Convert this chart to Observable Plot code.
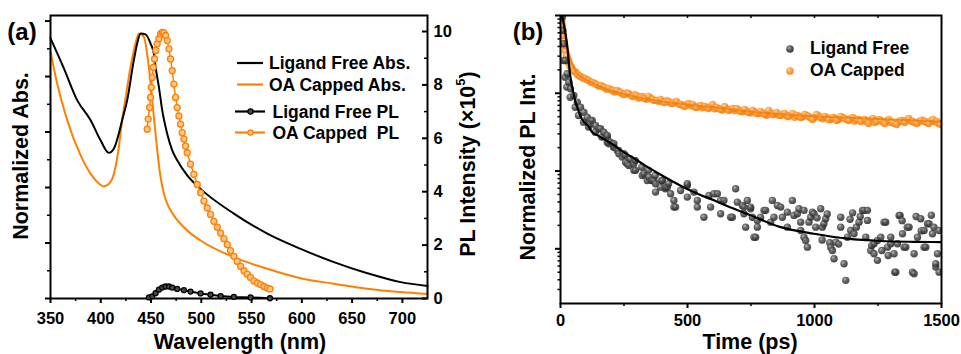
<!DOCTYPE html>
<html><head><meta charset="utf-8">
<script src="https://cdn.jsdelivr.net/npm/d3@7"></script>
<script src="https://cdn.jsdelivr.net/npm/@observablehq/plot@0.6"></script>
<style>
body{margin:0;background:#fff;}
#wrap{position:relative;width:961px;height:354px;overflow:hidden;background:#fff;}
#wrap svg{position:absolute;top:0;}
</style></head><body><div id="wrap"></div>
<script>
// ---------- Panel (a) data ----------
const wlAbsLF = [350,363,376.5,389.8,399.8,408,413,418,421.3,426.3,432.9,436.2,439.6,444.5,449.5,452.8,454.5,457.8,461.1,466,471.1,476,486,499,532.4,565.6,598.8,631.9,665.1,698.3,725];
const absLF   = [0.938,0.832,0.715,0.643,0.570,0.525,0.540,0.595,0.643,0.715,0.859,0.919,0.955,0.952,0.919,0.883,0.835,0.763,0.679,0.595,0.534,0.498,0.444,0.396,0.306,0.234,0.179,0.131,0.091,0.059,0.045];
const wlAbsOA = [350,356.6,366.6,380,389.8,396.5,403,409.7,414.7,418,421.3,425,429.6,434.6,437.9,442.8,447.8,452.8,456.2,459.5,462.8,466.1,469.4,482.6,499.3,532.4,565.6,598.8,632,665,698,725];
const absOA   = [0.889,0.775,0.643,0.516,0.450,0.420,0.404,0.420,0.474,0.546,0.643,0.730,0.835,0.919,0.955,0.943,0.835,0.655,0.534,0.438,0.378,0.342,0.318,0.257,0.209,0.149,0.107,0.073,0.053,0.035,0.023,0.016];
const wlPLOA = [446.2,447.2,448.5,449.5,450.2,451.2,452.2,453.5,454.8,456.1,457.8,459.5,461.1,462.8,464.4,466.1,467.8,469.4,471.1,472.7,474.4,476,477.7,479.4,481,482.7,484.3,486,489.3,492.6,496,499.3,502.6,505.9,509.2,512.5,515.9,519.2,522.5,525.8,529.1,532.4,535.8,539.1,542.4,545.7,549,552.3,555.7,559,562.3,565.6,568.3];
const plOA   = [6.34,6.72,7.15,7.53,7.91,8.28,8.66,8.97,9.29,9.54,9.73,9.91,9.97,9.95,9.85,9.66,9.35,8.97,8.53,8.03,7.53,7.15,6.84,6.53,6.21,5.97,5.71,5.46,5.03,4.65,4.27,3.96,3.65,3.39,3.15,2.89,2.67,2.45,2.24,2.02,1.79,1.58,1.39,1.20,1.04,0.91,0.79,0.66,0.58,0.52,0.45,0.39,0.36];
const wlPLLF = [447.9,451.2,454.5,457.8,461.1,464.4,467.8,471.1,476,482.7,489.3,499.3,509.2,519.2,532.4,549,568.3];
const plLF   = [0.04,0.08,0.20,0.33,0.41,0.45,0.45,0.41,0.36,0.31,0.26,0.19,0.14,0.09,0.06,0.04,0.01];
const wlMajor = [350,400,450,500,550,600,650,700];
const wlMinor = [375,425,475,525,575,625,675];
const absMajor = [0,0.2,0.4,0.6,0.8,1.0];
const absMinor = [0.1,0.3,0.5,0.7,0.9];
const plMajor = [0,2,4,6,8,10];
const plMinor = [1,3,5,7,9];
const legendA = ["Ligand Free Abs.","OA Capped Abs.","Ligand Free PL","OA Capped  PL"];

// ---------- Panel (b) data ----------
const tLF = [6.7,9,11.8,13,18.5,19.7,24.8,26.4,32.7,38.2,39.4,52.4,57.9,65.8,70.9,78.8,90.6,91.8,105.2,110.3,118,118,124.9,136.7,137.9,150.9,157.6,162.7,170.6,184,184,184,189,190.3,197,208.8,210,210,223.4,228.5,230,243.1,249.4,255,256.1,262.8,269.1,274.6,288.8,288.8,294.3,295.5,320.3,321.9,328.2,341.6,346.7,347.9,359.7,361.3,367.6,373,374.3,374.3,394,399,400.7,412.5,413.7,420.4,425.5,433.4,446.4,446.4,453.1,472.8,499.2,499.2,499.2,525.2,538.6,538.6,564.6,584.3,591,604,617.4,630.4,630.4,643.4,669.8,676.5,689.5,696.2,715.9,722.2,722.2,728.9,735.6,748.6,748.6,755.3,761.6,768.3,775,775,788,801,807.7,827.4,834.1,840.4,853.8,866.8,873.5,893.2,893.2,912.9,919.2,932.6,938.9,945.6,945.6,958.6,958.6,965.3,972,978.3,985,991.7,998,1004.7,1010,1024.4,1030,1031.1,1037,1044.1,1050,1060,1063.8,1070.5,1076.8,1083.5,1095,1103.2,1103.2,1116.2,1122.9,1129.6,1140,1142.6,1150,1155.6,1165,1175.3,1180,1188.7,1195,1201.7,1208.4,1208.4,1221.4,1225,1234.4,1234.4,1247.8,1247.8,1260.8,1265,1273.8,1280.5,1287.2,1290,1300.2,1300.2,1313.2,1316,1319.9,1326.6,1332.9,1336.8,1345,1346.3,1352.6,1359.3,1365,1372.3,1385.7,1392,1392,1400,1405.4,1418.4,1420,1431.4,1431.4,1438.1,1445,1451.1,1460,1464.5,1470,1477.5,1477.5,1484.2,1490.5,1490.5];
const lfPL = [0.95,0.641,0.264,0.433,0.161,0.264,0.12,0.178,0.139,0.089,0.114,0.0937,0.0662,0.0769,0.0518,0.0662,0.0425,0.0571,0.0493,0.0367,0.0447,0.0405,0.0447,0.0316,0.0385,0.035,0.035,0.0273,0.0316,0.0273,0.0287,0.0235,0.0235,0.0224,0.0235,0.0203,0.0203,0.0224,0.0184,0.0184,0.0167,0.0151,0.0167,0.0159,0.013,0.0124,0.0118,0.0144,0.0102,0.0124,0.0137,0.0102,0.0112,0.00878,0.00923,0.00757,0.0102,0.00835,0.00757,0.00757,0.00757,0.00878,0.00687,0.00536,0.00621,0.00757,0.00757,0.00592,0.00621,0.00621,0.00687,0.0051,0.00419,0.00344,0.00344,0.00563,0.00653,0.00462,0.00687,0.00536,0.00344,0.00419,0.00255,0.00485,0.00344,0.0051,0.0051,0.00282,0.00419,0.00419,0.00255,0.00255,0.00592,0.00398,0.00361,0.00344,0.00282,0.0019,0.00419,0.00327,0.00344,0.00255,0.00141,0.00141,0.00232,0.0019,0.00255,0.00312,0.00312,0.0022,0.00419,0.00255,0.00361,0.00344,0.00255,0.00296,0.0019,0.00419,0.00269,0.00282,0.00327,0.0022,0.00172,0.00141,0.00312,0.00128,0.00105,0.0022,0.00255,0.00296,0.00282,0.0019,0.0025,0.00327,0.0013,0.0019,0.0021,0.00244,0.0028,0.0012,0.00105,0.00095,0.000746,0.00122,0.00115,0.00255,0.0019,0.000643,0.000393,0.00141,0.0024,0.00172,0.0029,0.00156,0.0019,0.0022,0.0026,0.00312,0.00312,0.00141,0.00312,0.00232,0.00095,0.0011,0.000865,0.00116,0.00128,0.00071,0.00141,0.00095,0.0022,0.0022,0.00105,0.00082,0.00141,0.00116,0.000865,0.000501,0.000501,0.00116,0.00269,0.00269,0.0023,0.00156,0.00105,0.00105,0.0019,0.0019,0.000501,0.000478,0.000865,0.0026,0.00141,0.00244,0.0017,0.00172,0.00105,0.00105,0.0021,0.0021,0.0027,0.00156,0.0019,0.000582,0.000643,0.000865,0.000501,0.00172];
const tOA = [3.9,7.9,11.8,15.8,23.6,31.5,43.3,55.2,67,78.8,94.6,110.3,126,141.8,157.6,173.4,189,205,220.6,236.4,252.2,268,283.7,299.4,315.2,331,346.7,362.5,378,394,409.8,425.5,441.3,457,472.8,488.6,504.3,520,535.8,551.6,567.4,583,598.9,614.6,630.4,646,662,677.7,693.4,709.2,725,740.7,756.5,772.2,788,803.8,819.5,835.3,851,866.8,882.6,898.3,914,929.8,945.6,961.4,977,993,1008.6,1024.4,1040,1056,1071.7,1087.4,1103.2,1119,1134.7,1150.5,1166,1182,1197.8,1213.5,1229.3,1245,1260.8,1276.6,1292.3,1308,1323.8,1339.6,1355.4,1371,1386.9,1402.6,1418.4,1434,1450,1465.7,1481.4,1497.2];
const oaPL = [1.0,0.744,0.553,0.411,0.306,0.249,0.215,0.191,0.1745,0.1644,0.155,0.146,0.1377,0.1298,0.126,0.1188,0.1153,0.1087,0.1087,0.1024,0.0965,0.0994,0.091,0.0937,0.0883,0.0857,0.091,0.0832,0.0808,0.0832,0.0762,0.0785,0.0739,0.0785,0.0718,0.0677,0.0739,0.0718,0.0657,0.0697,0.0677,0.0638,0.0718,0.0657,0.0619,0.0677,0.0601,0.0638,0.0638,0.0583,0.0619,0.0566,0.0601,0.055,0.0583,0.0534,0.0601,0.0534,0.0566,0.0518,0.055,0.0503,0.055,0.0518,0.0489,0.0534,0.0503,0.046,0.0534,0.0489,0.0503,0.046,0.0489,0.0447,0.0503,0.0475,0.0447,0.0489,0.046,0.0434,0.046,0.0409,0.0475,0.0434,0.0447,0.0409,0.046,0.0421,0.0397,0.0447,0.0421,0.0475,0.0434,0.0409,0.0447,0.0434,0.0409,0.046,0.0434,0.0397];
const tOA2 = [5.9,9.8,13.8,19.7,27.5,37.4,49,61,73,86.7,102.5,118,134,149.7,165.5,181,197,212.8,228.5,244,260,276,291.5,307,323,339,354.6,370,386,402,417.6,433.4,449,465,480.7,496.5,512,528,543.7,559.5,575,591,606.7,622.5,638,654,670,685.5,701.3,717,733,748.6,764.4,780,796,811.7,827.4,843,859,874.7,890.5,906,922,937.7,953.5,969,985,1000.8,1016.5,1032,1048,1063.8,1079.6,1095.3,1111,1127,1142.6,1158,1174,1190,1205.7,1221.4,1237,1253,1268.7,1284.4,1300,1316,1331.7,1347.5,1363,1379,1394.8,1410.5,1426,1442,1457.8,1473.5,1489];
const oaPL2 = [0.86,0.64,0.47,0.35,0.27,0.225,0.2,0.185,0.168,0.158,0.152,0.14,0.135,0.124,0.122,0.113,0.112,0.104,0.106,0.098,0.101,0.094,0.096,0.087,0.091,0.084,0.087,0.081,0.079,0.078,0.081,0.075,0.077,0.073,0.070,0.072,0.069,0.067,0.068,0.065,0.066,0.067,0.063,0.064,0.061,0.063,0.062,0.060,0.061,0.058,0.059,0.056,0.058,0.055,0.056,0.052,0.056,0.054,0.052,0.054,0.051,0.052,0.049,0.051,0.050,0.052,0.048,0.049,0.051,0.047,0.049,0.046,0.048,0.046,0.049,0.046,0.047,0.044,0.046,0.045,0.043,0.045,0.042,0.046,0.043,0.044,0.042,0.041,0.043,0.044,0.045,0.044,0.042,0.043,0.045,0.042,0.044,0.043,0.041];
const tFitLF = [6,15,24.8,38.2,46,57.9,72,83.9,111.5,123.3,144.6,177.3,210,243,290,341.6,386,440,473,540,604,670,735.6,866.8,998,1129.6,1261,1391,1500];
const fitLF  = [1.0,0.72,0.45,0.17,0.12,0.08,0.058,0.047,0.037,0.032,0.029,0.025,0.0215,0.018,0.0145,0.0113,0.0093,0.0074,0.00646,0.0051,0.0042,0.0034,0.0028,0.0019,0.00156,0.00135,0.00126,0.00123,0.00122];
const tFitOA = [0,15,30,45,60,80,110,175,245,375,505,640,770,900,1030,1160,1300,1500];
const fitOA  = [1.0,0.62,0.36,0.25,0.19,0.165,0.145,0.115,0.099,0.081,0.071,0.064,0.057,0.053,0.050,0.048,0.046,0.043];
const tMajor = [0,500,1000,1500];
const tMinor = [250,750,1250];
const tTop = [250,500,750,1000,1250];
const logMajor = [1e-3,1e-2,1e-1,1];
const logMinor = [3e-4,4e-4,5e-4,6e-4,7e-4,8e-4,9e-4,2e-3,3e-3,4e-3,5e-3,6e-3,7e-3,8e-3,9e-3,2e-2,3e-2,4e-2,5e-2,6e-2,7e-2,8e-2,9e-2,0.2,0.3,0.4,0.5,0.6,0.7,0.8,0.9];
const legendB = ["Ligand Free","OA Capped"];

// ---------- build ----------
const FONT = '"Liberation Sans", Arial, Helvetica, sans-serif';
const ORANGE = "#ff8000";
const baseStyle = {fontFamily: FONT, fontSize: "16.5px", fontWeight: "bold", color: "black", background: "transparent", overflow: "visible"};
const rows = (xs, ys) => xs.map((x, i) => ({x, y: ys[i]}));
const wrap = document.getElementById("wrap");

const absPlot = Plot.plot({
  width: 480, height: 354, marginLeft: 50, marginRight: 53, marginTop: 15, marginBottom: 56,
  style: baseStyle,
  x: {domain: [350, 725]},
  y: {domain: [0, 1.02]},
  marks: [
    Plot.axisX(wlMajor, {anchor: "bottom", tickSize: 5, strokeWidth: 2, tickPadding: 9, label: null, fontSize: 16.5, tickFormat: d => String(d)}),
    Plot.axisX(wlMinor, {anchor: "bottom", tickSize: 3, strokeWidth: 1.5, fill: "none", label: null}),
    Plot.axisY(absMajor, {anchor: "left", tickSize: 5, strokeWidth: 2, fill: "none", label: null}),
    Plot.axisY(absMinor, {anchor: "left", tickSize: 3, strokeWidth: 1.5, fill: "none", label: null}),
    Plot.line(rows(wlAbsOA, absOA), {x: "x", y: "y", stroke: ORANGE, strokeWidth: 2, curve: "monotone-x"}),
    Plot.line(rows(wlAbsLF, absLF), {x: "x", y: "y", stroke: "black", strokeWidth: 2, curve: "monotone-x"}),
    Plot.frame({stroke: "black", strokeWidth: 2})
  ]
});
absPlot.style.left = "0px";
wrap.appendChild(absPlot);

const plPlot = Plot.plot({
  width: 480, height: 354, marginLeft: 50, marginRight: 53, marginTop: 15, marginBottom: 56,
  style: baseStyle,
  x: {domain: [350, 725], axis: null},
  y: {domain: [0, 10.6]},
  marks: [
    Plot.axisY(plMajor, {anchor: "left", frameAnchor: "right", tickSize: 5, strokeWidth: 2, fill: "none", label: null}),
    Plot.axisY(plMinor, {anchor: "left", frameAnchor: "right", tickSize: 3, strokeWidth: 1.5, fill: "none", label: null}),
    Plot.axisY(plMajor, {anchor: "right", tickSize: 0, tickPadding: 6, label: null, fontSize: 16.5}),
    Plot.line(rows(wlPLLF, plLF), {x: "x", y: "y", stroke: "black", strokeWidth: 2}),
    Plot.dot(rows(wlPLLF, plLF), {x: "x", y: "y", r: 2.5, stroke: "black", fill: "#4a4a4a", strokeWidth: 1.3}),
    Plot.line(rows(wlPLOA, plOA), {x: "x", y: "y", stroke: ORANGE, strokeWidth: 1.5}),
    Plot.dot(rows(wlPLOA, plOA), {x: "x", y: "y", r: 3, stroke: ORANGE, fill: "#ffc58a", strokeWidth: 1.3})
  ]
});
plPlot.style.left = "0px";
wrap.appendChild(plPlot);

const bPlot = Plot.plot({
  width: 481, height: 354, marginLeft: 80, marginRight: 20, marginTop: 15, marginBottom: 51,
  style: baseStyle,
  x: {domain: [0, 1500]},
  y: {type: "log", domain: [1.98e-4, 1]},
  marks: [
    Plot.axisX(tMajor, {anchor: "bottom", tickSize: 5, strokeWidth: 2, tickPadding: 6, label: null, fontSize: 16.5, tickFormat: d => String(d)}),
    Plot.axisX(tMinor, {anchor: "bottom", tickSize: 3, strokeWidth: 1.5, fill: "none", label: null}),
    Plot.axisX(tTop, {anchor: "bottom", frameAnchor: "top", tickSize: 3, strokeWidth: 1.5, fill: "none", label: null}),
    Plot.axisY(logMajor, {anchor: "left", tickSize: 5, strokeWidth: 2, fill: "none", label: null}),
    Plot.axisY(logMinor, {anchor: "left", tickSize: 2.5, strokeWidth: 1.5, fill: "none", label: null}),
    Plot.dot(rows(tOA2, oaPL2), {x: "x", y: "y", r: 3.7, fill: "url(#gOra)", fillOpacity: 0.85, clip: true}),
    Plot.dot(rows(tOA, oaPL), {x: "x", y: "y", r: 3.7, fill: "url(#gOra)", fillOpacity: 0.85, clip: true}),
    Plot.line(rows(tFitOA, fitOA), {x: "x", y: "y", stroke: "#f07800", strokeWidth: 2, strokeOpacity: 0.7, curve: "monotone-x", clip: true}),
    Plot.dot(rows(tLF, lfPL), {x: "x", y: "y", r: 3.7, fill: "url(#gBlk)", fillOpacity: 0.85, clip: true}),
    Plot.line(rows(tFitLF, fitLF), {x: "x", y: "y", stroke: "black", strokeWidth: 2.2, curve: "monotone-x", clip: true}),
    Plot.frame({stroke: "black", strokeWidth: 2})
  ]
});
bPlot.style.left = "480px";
wrap.appendChild(bPlot);

// gradients for spheres
const defs = d3.select(bPlot).insert("defs", ":first-child");
function grad(id, stops) {
  const g = defs.append("radialGradient").attr("id", id).attr("cx", "38%").attr("cy", "35%").attr("r", "65%");
  stops.forEach(([o, c]) => g.append("stop").attr("offset", o).attr("stop-color", c));
}
grad("gBlk", [[0, "#a8a8a8"], [0.45, "#4d4d4d"], [1, "#262626"]]);
grad("gOra", [[0, "#ffd3a6"], [0.45, "#ff9a33"], [1, "#f07d0c"]]);

// ---------- titles & legends ----------
function txt(sel, x, y, s, size, rot) {
  const t = sel.append("text").attr("x", x).attr("y", y)
    .attr("text-anchor", "middle").attr("dominant-baseline", "central")
    .style("font-family", FONT).style("font-weight", "bold").style("font-size", size + "px")
    .style("white-space", "pre").attr("fill", "black").text(s);
  if (rot) t.attr("transform", `rotate(${rot},${x},${y})`);
  return t;
}
const sa = d3.select(plPlot);
txt(sa, 22, 31, "(a)", 24);
txt(sa, 21, 156, "Normalized Abs.", 21.5, -90);
txt(sa, 240, 342, "Wavelength (nm)", 21.5);
const plT = sa.append("text").attr("transform", "translate(468,164) rotate(-90)")
  .attr("text-anchor", "middle").attr("dominant-baseline", "central")
  .style("font-family", FONT).style("font-weight", "bold").style("font-size", "21.5px").attr("fill", "black");
plT.append("tspan").text("PL Intensity (\u00d710");
plT.append("tspan").attr("dy", -8).style("font-size", "13px").text("5");
plT.append("tspan").attr("dy", 8).text(")");

const lg = sa.append("g");
const lgY = [63, 84.5, 111.5, 132.5];
const lgCol = ["black", ORANGE, "black", ORANGE];
legendA.forEach((s, i) => {
  const isPL = i >= 2;
  const x1 = isPL ? 235 : 237, x2 = isPL ? 265 : 263;
  lg.append("line").attr("x1", x1).attr("x2", x2).attr("y1", lgY[i]).attr("y2", lgY[i])
    .attr("stroke", lgCol[i]).attr("stroke-width", 2.2);
  if (isPL) lg.append("circle").attr("cx", 250.5).attr("cy", lgY[i]).attr("r", 2.6)
    .attr("stroke", lgCol[i]).attr("stroke-width", 1.3).attr("fill", i === 2 ? "#4a4a4a" : "#ffc58a");
  txt(lg, isPL ? 272.5 : 269, lgY[i], s, 17.5).attr("text-anchor", "start");
});

const sb = d3.select(bPlot);
txt(sb, 48, 31, "(b)", 24);
txt(sb, 47.5, 167, "Normalized PL Int.", 21.5, -90);
txt(sb, 270, 342, "Time (ps)", 21.5);
const lbY = [49, 71];
legendB.forEach((s, i) => {
  sb.append("circle").attr("cx", 310).attr("cy", lbY[i]).attr("r", 3.8)
    .attr("fill", i === 0 ? "url(#gBlk)" : "url(#gOra)").attr("fill-opacity", 0.9);
  txt(sb, 330, lbY[i] - 1, s, 17.5).attr("text-anchor", "start");
});
</script></body></html>
